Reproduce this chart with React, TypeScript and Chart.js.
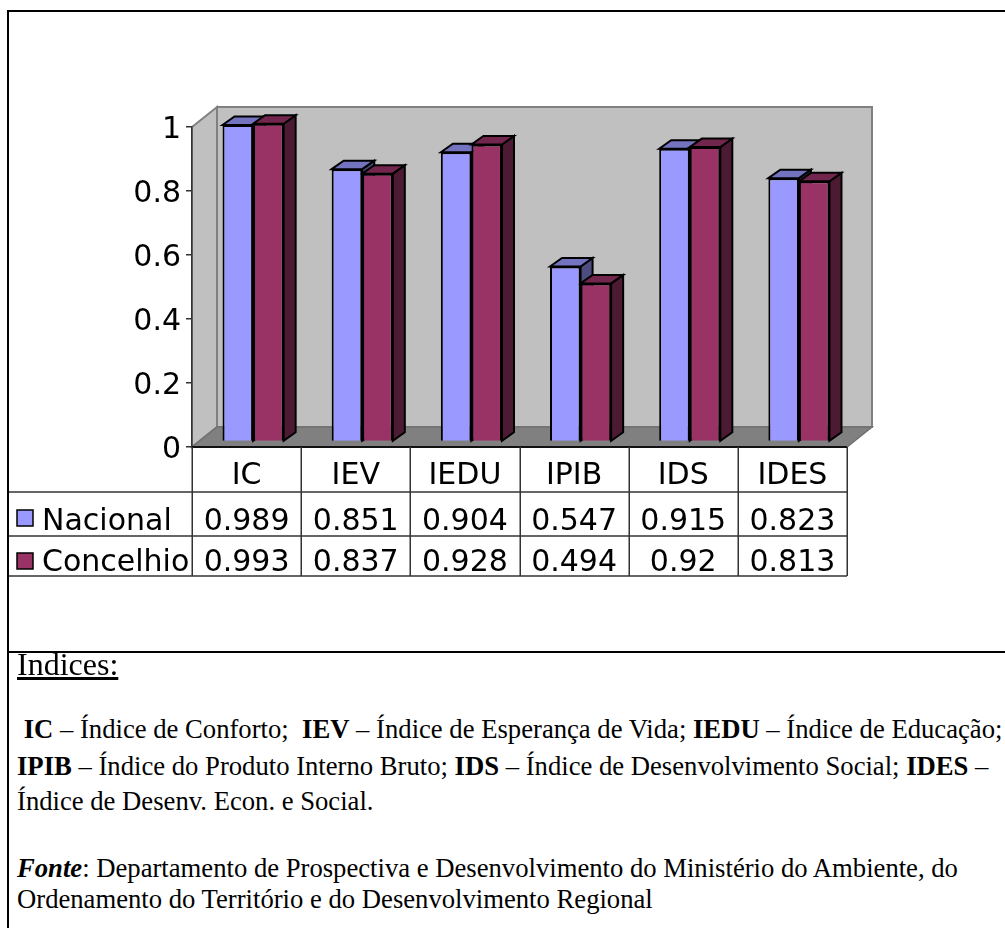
import React, { useEffect, useRef } from "react";
import { Chart, registerables } from "chart.js";

Chart.register(...registerables);

const categories = ["IC", "IEV", "IEDU", "IPIB", "IDS", "IDES"];
const nacional = [0.989, 0.851, 0.904, 0.547, 0.915, 0.823];
const concelhio = [0.993, 0.837, 0.928, 0.494, 0.92, 0.813];
const seriesNames = ["Nacional", "Concelhio"];
const yMin = 0;
const yMax = 1;
const yStep = 0.2;

const frontColors = ["#9999ff", "#993366"];
const topColors = ["#7373bf", "#73264d"];
const sideColors = ["#4d4d80", "#4d1a33"];

const FONT = "'DejaVu Sans', Verdana, sans-serif";

export default function App() {
  const ref = useRef<HTMLCanvasElement | null>(null);

  useEffect(() => {
    const canvas = ref.current;
    if (!canvas) return;
    const DX = 25, DY = 20; // wall depth
    const BDX = 12, BDY = 8.5; // bar depth
    const SHX = 6.5, SHY = -5.5; // bar placement within depth

    const poly = (ctx: CanvasRenderingContext2D, pts: number[][], fill: string, stroke: string, lw: number) => {
      ctx.beginPath();
      ctx.moveTo(pts[0][0], pts[0][1]);
      for (let i = 1; i < pts.length; i++) ctx.lineTo(pts[i][0], pts[i][1]);
      ctx.closePath();
      ctx.fillStyle = fill;
      ctx.fill();
      ctx.strokeStyle = stroke;
      ctx.lineWidth = lw;
      ctx.stroke();
    };

    const threeD = {
      id: "threeD",
      beforeDraw(chart: any) {
        const { ctx, scales } = chart;
        const x = scales.x, y = scales.y;
        const l = x.left, r = x.right, t = y.getPixelForValue(yMax), b = y.getPixelForValue(yMin);
        ctx.save();
        poly(ctx, [[l + DX, t - DY], [r + DX, t - DY], [r + DX, b - DY], [l + DX, b - DY]], "#c0c0c0", "#808080", 2);
        poly(ctx, [[l, t], [l + DX, t - DY], [l + DX, b - DY], [l, b]], "#c0c0c0", "#808080", 2);
        poly(ctx, [[l, b], [r, b], [r + DX, b - DY], [l + DX, b - DY]], "#808080", "#707070", 1.5);
        ctx.restore();
      },
      beforeDatasetsDraw(chart: any) {
        const { ctx } = chart;
        ctx.save();
        ctx.translate(SHX, SHY);
        const metas = [chart.getDatasetMeta(0), chart.getDatasetMeta(1)];
        for (let j = 0; j < categories.length; j++) {
          for (let d = 0; d < metas.length; d++) {
            const el: any = metas[d].data[j];
            const hw = el.width / 2;
            const x0 = el.x - hw, x1 = el.x + hw;
            poly(ctx, [[x1, el.y], [x1 + BDX, el.y - BDY], [x1 + BDX, el.base - BDY], [x1, el.base]], sideColors[d], "#000", 2);
            poly(ctx, [[x0, el.y], [x0 + BDX, el.y - BDY], [x1 + BDX, el.y - BDY], [x1, el.y]], topColors[d], "#000", 2);
          }
        }
      },
      afterDatasetsDraw(chart: any) {
        chart.ctx.restore();
      },
      afterDraw(chart: any) {
        const { ctx, scales } = chart;
        const x = scales.x, y = scales.y;
        const l = x.left, r = x.right, b = y.getPixelForValue(yMin);
        const rows = [b, b + 45, b + 89, b + 129];
        ctx.save();
        ctx.strokeStyle = "#111";
        ctx.lineWidth = 2;
        ctx.beginPath();
        ctx.moveTo(l, b);
        ctx.lineTo(r, b);
        ctx.stroke();
        ctx.lineWidth = 1.5;
        ctx.strokeStyle = "#333";
        const n = categories.length;
        const cw = (r - l) / n;
        for (let k = 0; k <= n; k++) {
          const xx = Math.round(l + k * cw) + 0.25;
          ctx.beginPath();
          ctx.moveTo(xx, b);
          ctx.lineTo(xx, rows[3]);
          ctx.stroke();
        }
        for (let k = 1; k <= 3; k++) {
          ctx.beginPath();
          ctx.moveTo(9, rows[k]);
          ctx.lineTo(r, rows[k]);
          ctx.stroke();
        }
        ctx.font = `30px ${FONT}`;
        ctx.fillStyle = "#000";
        ctx.textBaseline = "alphabetic";
        const data = [nacional, concelhio];
        const baselines = [b + 82.5, b + 124];
        const sq = [b + 63, b + 106];
        for (let d = 0; d < 2; d++) {
          ctx.fillStyle = frontColors[d];
          ctx.fillRect(17, sq[d], 16, 16);
          ctx.strokeStyle = "#000";
          ctx.lineWidth = 1.5;
          ctx.strokeRect(17, sq[d], 16, 16);
          ctx.fillStyle = "#000";
          ctx.textAlign = "left";
          ctx.fillText(seriesNames[d], 42, baselines[d]);
          ctx.textAlign = "center";
          for (let j = 0; j < n; j++) {
            ctx.fillText(String(data[d][j]), x.getPixelForValue(j), baselines[d]);
          }
        }
        ctx.restore();
      },
    };

    const chart = new Chart(canvas, {
      type: "bar",
      data: {
        labels: categories,
        datasets: [
          { label: seriesNames[0], data: nacional, backgroundColor: frontColors[0], borderColor: "#000", borderWidth: 2, categoryPercentage: 0.56, barPercentage: 1, clip: false } as any,
          { label: seriesNames[1], data: concelhio, backgroundColor: frontColors[1], borderColor: "#000", borderWidth: 2, categoryPercentage: 0.56, barPercentage: 1, clip: false } as any,
        ],
      },
      options: {
        responsive: false,
        animation: false,
        devicePixelRatio: 1,
        layout: { padding: { left: 0, right: 158, top: 127, bottom: 0 } },
        plugins: { legend: { display: false }, tooltip: { enabled: false }, title: { display: false } },
        scales: {
          x: {
            display: true,
            grid: { display: false },
            border: { display: false },
            ticks: { font: { size: 30, family: FONT }, color: "#000", padding: 3, maxRotation: 0, autoSkip: false },
            afterFit: (s: any) => { s.height = 193; },
          },
          y: {
            min: yMin,
            max: yMax,
            ticks: {
              stepSize: yStep,
              font: { size: 30, family: FONT },
              color: "#000",
              padding: 5,
              labelOffset: 3,
              callback: (v: any) => String(Number(Number(v).toFixed(2))),
            },
            grid: { drawOnChartArea: false, drawTicks: true, tickLength: 6, color: "#333", lineWidth: 1.5 },
            border: { display: true, color: "#333", width: 1.5 },
            afterFit: (s: any) => { s.width = 192; },
          },
        },
      } as any,
      plugins: [threeD],
    });
    return () => chart.destroy();
  }, []);

  const serif = "'Liberation Serif', 'Times New Roman', serif";
  const body: React.CSSProperties = { position: "absolute", left: 17, fontFamily: serif, fontSize: 26.67, lineHeight: "26.67px", whiteSpace: "pre", color: "#000" };

  return (
    <div style={{ position: "absolute", left: 0, top: 0, width: 1005, height: 928, overflow: "hidden", background: "#fff" }}>
      <canvas ref={ref} width={1005} height={640} style={{ position: "absolute", left: 0, top: 0, width: 1005, height: 640 }} />
      <div style={{ position: "absolute", left: 7, top: 10, width: 998, height: 2, background: "#000" }} />
      <div style={{ position: "absolute", left: 7, top: 10, width: 2, height: 918, background: "#000" }} />
      <div style={{ position: "absolute", left: 7, top: 651, width: 998, height: 2, background: "#000" }} />
      <div style={{ position: "absolute", left: 17, top: 648, fontFamily: serif, fontSize: 32, lineHeight: "32px", textDecoration: "underline", whiteSpace: "pre" }}>Indices:</div>
      <div style={{ ...body, top: 715.5 }}> <b>IC</b> – Índice de Conforto;  <b>IEV</b> – Índice de Esperança de Vida; <b>IEDU</b> – Índice de Educação;</div>
      <div style={{ ...body, top: 753 }}><b>IPIB</b> – Índice do Produto Interno Bruto; <b>IDS</b> – Índice de Desenvolvimento Social; <b>IDES</b> –</div>
      <div style={{ ...body, top: 787.5 }}>Índice de Desenv. Econ. e Social.</div>
      <div style={{ ...body, top: 854.5 }}><b><i>Fonte</i></b>: Departamento de Prospectiva e Desenvolvimento do Ministério do Ambiente, do</div>
      <div style={{ ...body, top: 886 }}>Ordenamento do Território e do Desenvolvimento Regional</div>
    </div>
  );
}
